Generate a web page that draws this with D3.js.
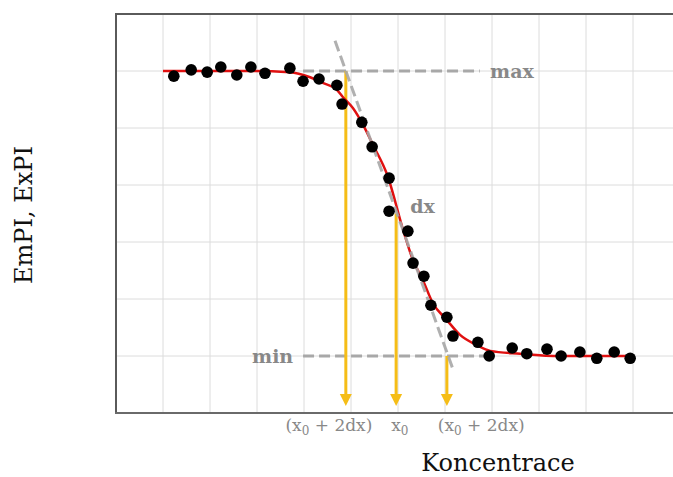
<!DOCTYPE html>
<html><head><meta charset="utf-8">
<script src="https://cdn.jsdelivr.net/npm/d3@7"></script>
<style>body{margin:0;background:#fff}svg{display:block}</style>
</head><body>
<svg id="chart" width="673" height="477"></svg>
<script>
// measured points (x: concentration units, y: signal units)
const pointX = [1.23,1.60,1.94,2.23,2.57,2.87,3.17,3.70,3.98,4.32,4.70,4.81,5.23,5.45,5.81,5.81,6.21,6.32,6.55,6.70,7.04,7.17,7.70,7.94,8.43,8.74,9.17,9.47,9.87,10.23,10.60,10.94];
const pointY = [5.91,6.02,5.98,6.07,5.93,6.07,5.96,6.05,5.82,5.86,5.75,5.42,5.10,4.67,4.12,3.54,3.19,2.63,2.40,1.89,1.68,1.35,1.24,1.00,1.14,1.04,1.12,1.00,1.07,0.96,1.07,0.96];
// fitted curve
const curveX = [1.00,2.85,3.70,4.13,4.40,4.70,4.83,5.04,5.26,5.47,5.77,6.11,6.32,6.53,6.74,7.04,7.32,7.68,7.96,8.60,9.45,11.0];
const curveY = [6.00,6.00,5.98,5.89,5.79,5.67,5.54,5.35,5.05,4.70,4.18,3.21,2.68,2.33,1.93,1.63,1.37,1.19,1.09,1.04,1.00,1.00];
const maxLevel = 6, minLevel = 1, midLevel = 3.5;
const maxLineX = [3.98, 7.74];
const minLineX = [3.98, 7.90];
const tangentX = [4.66, 7.19];
const tangentY = [6.53, 0.72];
const arrowX = [4.89, 5.96, 7.04];
const arrowFrom = [maxLevel, midLevel, minLevel];
const tickLabels = [["(x","0"," + 2dx)"],["x","0",""],["(x","0"," + 2dx)"]];
const tickLabelX = [4.53, 6.04, 7.77];
const xGrid = d3.range(1, 13);
const yGrid = d3.range(1, 7);

const svg = d3.select("#chart");
const x = d3.scaleLinear().domain([0, 12]).range([116, 680]);
const y = d3.scaleLinear().domain([0, 7]).range([413, 14]);

const serif = "'DejaVu Serif', 'Liberation Serif', serif";
const gray = "#888888";

// grid
svg.append("g").selectAll("line").data(xGrid).join("line")
  .attr("x1", d => x(d)).attr("x2", d => x(d)).attr("y1", y(7)).attr("y2", y(0))
  .attr("stroke", "#dcdcdc").attr("stroke-width", 1);
svg.append("g").selectAll("line").data(yGrid).join("line")
  .attr("x1", x(0)).attr("x2", 673).attr("y1", d => y(d)).attr("y2", d => y(d))
  .attr("stroke", "#dcdcdc").attr("stroke-width", 1);

// frame
const frame = svg.append("g").attr("stroke", "#5a5a5a").attr("stroke-width", 2);
frame.append("line").attr("x1", x(0)).attr("x2", x(0)).attr("y1", y(7)).attr("y2", y(0));
frame.append("line").attr("x1", x(0) - 1).attr("x2", 673).attr("y1", y(7)).attr("y2", y(7));
frame.append("line").attr("x1", x(0) - 1).attr("x2", 673).attr("y1", y(0)).attr("y2", y(0)).attr("stroke", "#6a6a6a");

// dashed guides
const dash = "11,5";
svg.append("line").attr("x1", x(maxLineX[0])).attr("x2", x(maxLineX[1]))
  .attr("y1", y(maxLevel)).attr("y2", y(maxLevel))
  .attr("stroke", "#a8a8a8").attr("stroke-width", 3).attr("stroke-dasharray", dash);
svg.append("line").attr("x1", x(minLineX[0])).attr("x2", x(minLineX[1]))
  .attr("y1", y(minLevel)).attr("y2", y(minLevel))
  .attr("stroke", "#a8a8a8").attr("stroke-width", 3).attr("stroke-dasharray", dash);

// yellow arrows
const yellow = "#f5bd17";
arrowX.forEach((ax, i) => {
  const px = x(ax);
  const tip = y(0) - 7, base = tip - 12;
  svg.append("line").attr("x1", px).attr("x2", px).attr("y1", y(arrowFrom[i])).attr("y2", base + 1)
    .attr("stroke", yellow).attr("stroke-width", 3);
  svg.append("path").attr("d", `M${px - 6},${base}L${px + 6},${base}L${px},${tip}Z`).attr("fill", yellow);
});

// fitted curve
const line = d3.line().x(d => x(d[0])).y(d => y(d[1])).curve(d3.curveMonotoneX);
svg.append("path").datum(curveX.map((d, i) => [d, curveY[i]]))
  .attr("d", line).attr("fill", "none").attr("stroke", "#e01010").attr("stroke-width", 2.5);

// tangent
svg.append("line").attr("x1", x(tangentX[0])).attr("x2", x(tangentX[1]))
  .attr("y1", y(tangentY[0])).attr("y2", y(tangentY[1]))
  .attr("stroke", "#a8a8a8").attr("stroke-width", 3).attr("stroke-dasharray", dash).attr("opacity", 0.9);

// points
svg.append("g").selectAll("circle").data(pointX.map((d, i) => [d, pointY[i]])).join("circle")
  .attr("cx", d => x(d[0])).attr("cy", d => y(d[1])).attr("r", 5.8).attr("fill", "#000");

// annotation labels
svg.append("text").attr("x", x(7.96)).attr("y", y(maxLevel)).attr("dy", "0.35em")
  .attr("font-family", serif).attr("font-weight", "bold").attr("font-size", 19).attr("fill", gray).text("max");
svg.append("text").attr("x", x(3.77)).attr("y", y(minLevel)).attr("dy", "0.35em").attr("text-anchor", "end")
  .attr("font-family", serif).attr("font-weight", "bold").attr("font-size", 19).attr("fill", gray).text("min");
svg.append("text").attr("x", x(6.26)).attr("y", y(3.62)).attr("dy", "0.35em")
  .attr("font-family", serif).attr("font-weight", "bold").attr("font-size", 19).attr("fill", gray).text("dx");

// x tick labels
tickLabels.forEach((parts, i) => {
  const t = svg.append("text").attr("x", x(tickLabelX[i])).attr("y", 431).attr("text-anchor", "middle")
    .attr("font-family", serif).attr("font-size", 17).attr("fill", gray);
  t.append("tspan").text(parts[0]);
  t.append("tspan").attr("font-size", 12).attr("dy", 4).text(parts[1]);
  if (parts[2]) t.append("tspan").attr("dy", -4).text(parts[2]);
});

// axis titles
svg.append("text").attr("x", 498).attr("y", 471).attr("text-anchor", "middle")
  .attr("font-family", serif).attr("font-size", 24).attr("fill", "#111").text("Koncentrace");
svg.append("text").attr("transform", "translate(32,215) rotate(-90)").attr("text-anchor", "middle")
  .attr("font-family", serif).attr("font-size", 24).attr("fill", "#111").text("EmPI, ExPI");
</script>
</body></html>
